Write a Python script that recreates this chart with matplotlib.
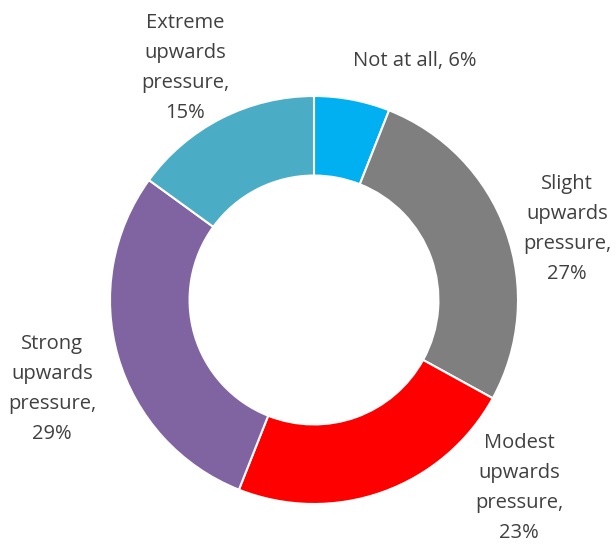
import matplotlib.pyplot as plt

labels = ["Not at all", "Slight\nupwards\npressure", "Modest\nupwards\npressure",
          "Strong\nupwards\npressure", "Extreme\nupwards\npressure"]
values = [6, 27, 23, 29, 15]
colors = ["#00B0F0", "#7F7F7F", "#FF0000", "#8064A2", "#4BACC6"]

# label block centres in pixels (x, y from top)
label_pos = [(415, 61), (567, 229), (519, 488), (52, 389), (185, 68)]

fig = plt.figure(figsize=(6.16, 5.46), dpi=100)
ax = fig.add_axes([0, 0, 1, 1])

ax.pie(values, colors=colors, startangle=90, counterclock=False,
       center=(314, 546 - 300), radius=204, frame=True,
       wedgeprops=dict(width=204 * 0.39, edgecolor="white", linewidth=1.5))
ax.set_xlim(0, 616)
ax.set_ylim(0, 546)
ax.set_aspect("equal")
ax.axis("off")

for lab, v, (x, y) in zip(labels, values, label_pos):
    if "\n" in lab:
        txt = lab + ",\n" + str(v) + "%"
    else:
        txt = lab + ", " + str(v) + "%"
    ax.text(x, 546 - y, txt, ha="center", va="center", fontsize=14.5,
            family="Open Sans", color="#404040", linespacing=1.68)

fig.savefig("out.png", dpi=100)
